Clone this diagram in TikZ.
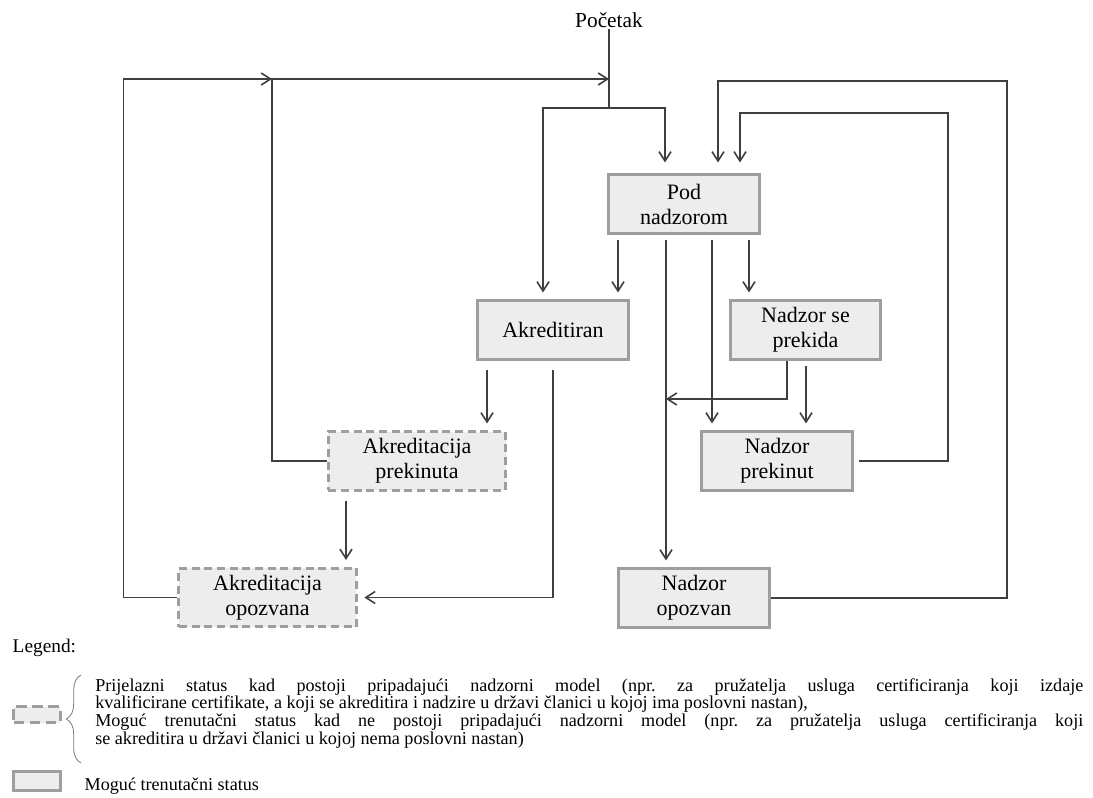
\documentclass[tikz,border=0pt]{standalone}
\usepackage{fontspec}
\setmainfont{Liberation Serif}
\usetikzlibrary{arrows.meta,calc,decorations.pathreplacing}
\definecolor{ink}{HTML}{3F3F3F}
\definecolor{frame}{HTML}{9E9E9E}
\definecolor{boxfill}{HTML}{EDEDED}
\tikzset{
  state/.style={
    draw=frame,
    fill=boxfill,
    line width=2.3pt,
    minimum width=113pt,
    minimum height=44pt,
    inner sep=2pt,
    align=center,
    font=\fontsize{16.5}{18.75}\selectfont,
    text=black
  },
  transient/.style={state,dash pattern=on 6pt off 3.5pt,minimum width=133pt},
  flow/.style={draw=ink,line width=1.2pt,shorten <=4pt},
  link/.style={flow,-{Straight Barb[length=7pt,width=9pt]},shorten >=5pt},
  meet/.style={flow,-{Straight Barb[length=7pt,width=9pt]},shorten >=0pt},
  legendText/.style={font=\fontsize{13.6}{13.3}\selectfont,text=black}
}

\begin{document}
\frenchspacing
\begin{tikzpicture}[x=0.75pt,y=-0.75pt]
  \useasboundingbox (0,0) rectangle (1093,798);

  % states
  \node[font=\fontsize{16}{18}\selectfont,inner sep=1pt] (start) at (609,20) {Početak};
  \node[state] (pod) at (684,204) {Pod\\nadzorom};
  \node[state] (akr) at (553,330) {Akreditiran};
  \node[state] (nsp) at (805.5,330) {Nadzor se\\prekida};
  \node[transient] (akp) at (417,461) {Akreditacija\\prekinuta};
  \node[state] (npk) at (777,461) {Nadzor\\prekinut};
  \node[transient] (ako) at (267.5,597.5) {Akreditacija\\opozvana};
  \node[state] (nop) at (694,598) {Nadzor\\opozvan};

  \coordinate (j0) at (609,108);
  \coordinate (topjoin) at (609,79);
  \coordinate (midjoin) at (272,79);
  \coordinate (nsjoin) at (666,399);

  % entry
  \draw[flow,shorten <=0pt] (start) -- (j0);
  \draw[link,shorten <=0pt] (j0) -| ($(akr.north)+(-10,0)$);
  \draw[link,shorten <=0pt,shorten >=8pt] (j0) -| ($(pod.north)+(-19,0)$);

  % out of supervision
  \draw[link] ($(pod.south)+(-66,0)$) -- ($(akr.north)+(65,0)$);
  \draw[link] ($(pod.south)+(-18,0)$) -- ($(nop.north)+(-28,0)$);
  \draw[link] ($(pod.south)+(28,0)$) -- ($(npk.north)+(-65,0)$);
  \draw[link] ($(pod.south)+(65,0)$) -- ($(nsp.north)+(-56.5,0)$);
  \draw[meet,shorten <=0pt] ($(nsp.south)+(-18.5,0)$) |- (nsjoin);
  \draw[link] ($(nsp.south)+(0.5,0)$) -- ($(npk.north)+(29,0)$);

  % accreditation branch
  \draw[link,shorten <=7pt] ($(akr.south)+(-66,0)$) -- ($(akp.north)+(70,0)$);
  \draw[link,shorten <=7pt] (akr.south) |- (ako.east);
  \draw[link,shorten <=7pt] ($(akp.south)+(-71,0)$) -- ($(ako.north)+(78.5,0)$);

  % back to the start
  \draw[meet,shorten <=0pt] (akp.west) -- ++(-55,0) |- (topjoin);
  \draw[meet,shorten <=0pt] (ako.west) -- ++(-54,0) |- (midjoin);
  \draw[link,shorten >=8pt] (npk.east) -- ++(94,0) -- ++(0,-348) -| ($(pod.north)+(56,0)$);
  \draw[link,shorten <=0pt,shorten >=8pt] (nop.east) -- ++(236,0) -- ++(0,-517) -| ($(pod.north)+(34,0)$);

  % legend
  \node[legendText,font=\fontsize{14.5}{16}\selectfont,anchor=base west] (legendTitle) at (8,652) {Legend:};
  \node[transient,minimum width=35pt,minimum height=12pt,dash pattern=on 8pt off 4pt] (keyDashed) at (37,714.5) {};
  \draw[draw=ink!70,line width=0.6pt,decorate,decoration={brace,amplitude=11pt}]
    (81,763) -- (81,675);
  \node[legendText,anchor=north west,text width=741pt,align=justify,inner sep=0pt] (legendBody) at (95,678) {%
    Prijelazni status kad postoji pripadajući nadzorni model (npr. za pružatelja usluga certificiranja koji izdaje\linebreak
    kvalificirane certifikate, a koji se akreditira i nadzire u državi članici u kojoj ima poslovni nastan),\par
    Moguć trenutačni status kad ne postoji pripadajući nadzorni model (npr. za pružatelja usluga certificiranja koji\linebreak
    se akreditira u državi članici u kojoj nema poslovni nastan)};
  \node[state,minimum width=35pt,minimum height=14pt] (keySolid) at (37,781) {};
  \node[legendText,anchor=base west] (keyLabel) at (80,790) {Moguć trenutačni status};
\end{tikzpicture}
\end{document}
